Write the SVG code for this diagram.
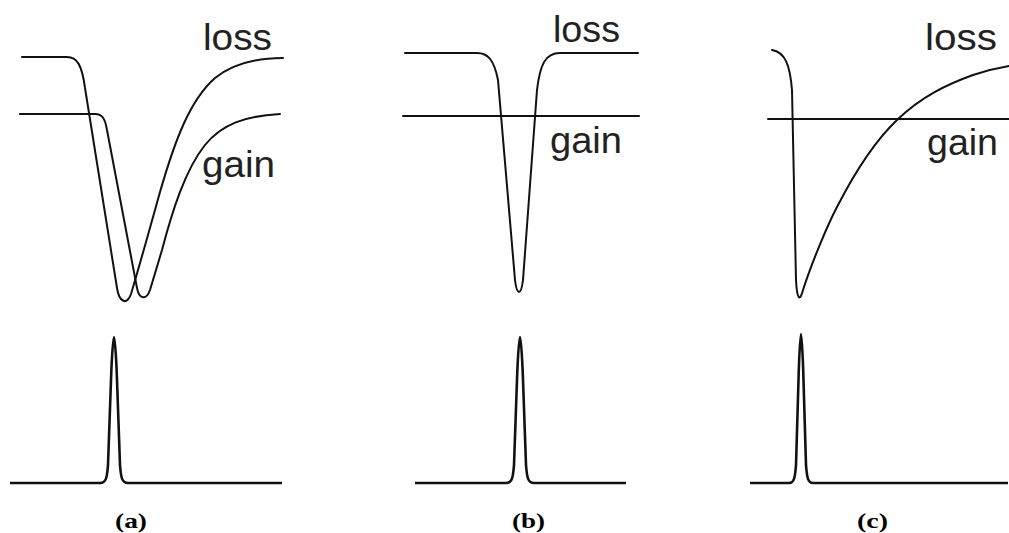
<svg xmlns="http://www.w3.org/2000/svg" width="1009" height="533" viewBox="0 0 1009 533">
<style>
.c{fill:none;stroke:#111;stroke-width:2;stroke-linecap:round;stroke-linejoin:round}
.p{fill:none;stroke:#111;stroke-width:2.6;stroke-linejoin:round}
.t{font-family:"Liberation Sans",Arial,sans-serif;font-size:36px;fill:#222}
.l{font-family:"Liberation Serif","Times New Roman",serif;font-size:22px;font-weight:bold;fill:#000}
</style>
<rect width="1009" height="533" fill="#fff"/>
<g id="panel-a">
<path class="c" d="M22,57 L67,57 C77,57 82,65 85,88 L117,288 C119,302 127,306 131,294 C140,264 150,228 160,192 C175,140 190,100 215,78 C235,62 260,58 283,58"/>
<path class="c" d="M20,114 L95,114 C102,114 105,118 107,130 L137,288 C139,299 146,301 150,290 L162,250 C172,212 185,170 205,145 C222,124 245,116 280,114"/>
<text class="t" x="203" y="50" textLength="69" lengthAdjust="spacingAndGlyphs">loss</text>
<text class="t" x="202" y="177" textLength="73" lengthAdjust="spacingAndGlyphs">gain</text>
<path class="p" d="M10,483 L100,483 C106,483 107,478 108,465 L111,380 C112,350 113.4,337 114,337 C114.6,337 116,350 117,380 L120,465 C121,478 122,483 128,483 L282,483"/>
<text class="l" x="115" y="528" textLength="32" lengthAdjust="spacingAndGlyphs">(a)</text>
</g>
<g id="panel-b">
<path class="c" d="M405,53 L477,53 C488,53 494,60 498,80 L515,280 C517,296 521,296 523,280 L537,90 C540,65 545,53 560,53 L638,53"/>
<path class="c" d="M403,116 L639,116"/>
<text class="t" x="553" y="42" textLength="67" lengthAdjust="spacingAndGlyphs">loss</text>
<text class="t" x="550" y="153" textLength="72" lengthAdjust="spacingAndGlyphs">gain</text>
<path class="p" d="M415,483 L506,483 C512,483 513,478 514,465 L517,380 C518,350 519.4,337 520,337 C520.6,337 522,350 523,380 L526,465 C527,478 528,483 534,483 L626,483"/>
<text class="l" x="512" y="528" textLength="33" lengthAdjust="spacingAndGlyphs">(b)</text>
</g>
<g id="panel-c">
<path class="c" d="M772,50 C785,52 790,65 792,90 L796,280 C797,300 800,302 803,290 C812,262 828,224 837,207 C857,168 877,139 897,120 C922,96 948,84 973,75 C985,71 997,68 1009,66"/>
<path class="c" d="M768,119 L1009,119"/>
<text class="t" x="925" y="50" textLength="72" lengthAdjust="spacingAndGlyphs">loss</text>
<text class="t" x="927" y="155" textLength="71" lengthAdjust="spacingAndGlyphs">gain</text>
<path class="p" d="M750,483 L789,483 C794,483 795,478 796,465 L798.5,380 C799.3,350 800.5,334 801,334 C801.5,334 802.7,350 803.5,380 L806,465 C807,478 808,483 813,483 L1008,483"/>
<text class="l" x="857" y="528" textLength="31" lengthAdjust="spacingAndGlyphs">(c)</text>
</g>
</svg>
